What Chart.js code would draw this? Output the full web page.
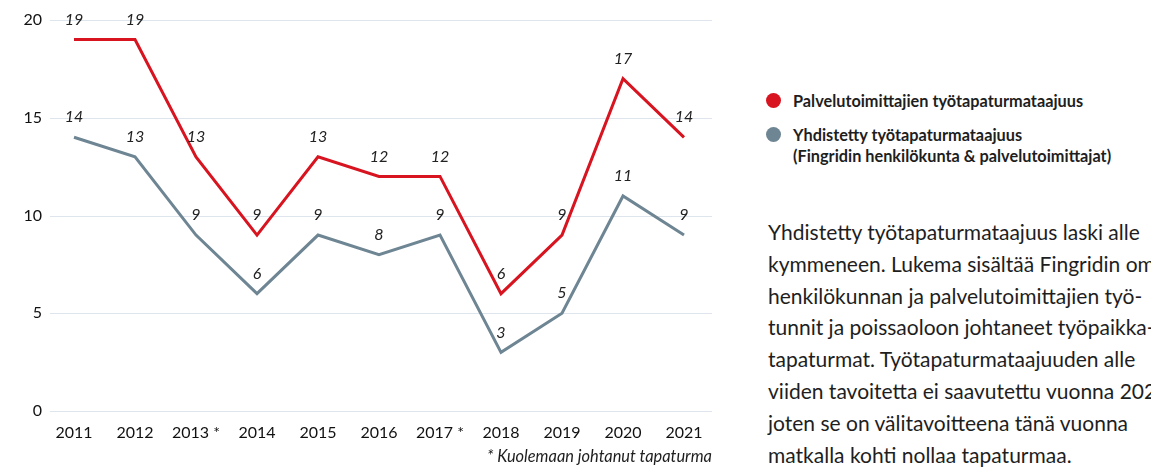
<!DOCTYPE html>
<html>
<head>
<meta charset="utf-8">
<script src="https://cdn.jsdelivr.net/npm/chart.js@4"></script>
<style>
  html, body { margin: 0; padding: 0; background: #fff; }
  body { width: 1151px; height: 469px; overflow: hidden; position: relative; font-family: Lato, "Open Sans", sans-serif; color: #1a1a1a; }
  #wrap { position: absolute; left: 0; top: 0; width: 740px; height: 469px; }
  .leg { position: absolute; left: 767px; font-weight: bold; font-size: 16.3px; line-height: 21px; white-space: nowrap; color: #1e1e1e; }
  .dot { position: absolute; left: -1px; width: 15px; height: 15px; border-radius: 50%; }
  .leg span.t { position: absolute; left: 26px; top: 0; }
  #para { position: absolute; left: 768px; top: 216px; font-size: 21px; line-height: 31.8px; white-space: nowrap; color: #1e1e1e; }
  #foot { position: absolute; right: calc(1151px - 712px); top: 446px; font-size: 16.4px; font-style: italic; white-space: nowrap; color: #1e1e1e; }
</style>
</head>
<body>
<div id="wrap"><canvas id="c" width="740" height="469"></canvas></div>
<div class="leg" style="top:90px;"><div class="dot" style="background:#d7141f;top:3px;"></div><span class="t">Palvelutoimittajien työtapaturmataajuus</span></div>
<div class="leg" style="top:124px;"><div class="dot" style="background:#6e8593;top:3px;"></div><span class="t">Yhdistetty työtapaturmataajuus<br>(Fingridin henkilökunta &amp; palvelutoimittajat)</span></div>
<div id="para">
Yhdistetty työtapaturmataajuus laski alle<br>
kymmeneen. Lukema sisältää Fingridin oman<br>
henkilökunnan ja palvelutoimittajien työ-<br>
tunnit ja poissaoloon johtaneet työpaikka-<br>
tapaturmat. Työtapaturmataajuuden alle<br>
viiden tavoitetta ei saavutettu vuonna 2021,<br>
joten se on välitavoitteena tänä vuonna<br>
matkalla kohti nollaa tapaturmaa.
</div>
<div id="foot">* Kuolemaan johtanut tapaturma</div>
<script>
const years = ['2011', '2012', '2013 *', '2014', '2015', '2016', '2017 *', '2018', '2019', '2020', '2021'];
const contractorRate = [19, 19, 13, 9, 13, 12, 12, 6, 9, 17, 14];
const combinedRate = [14, 13, 9, 6, 9, 8, 9, 3, 5, 11, 9];
const yTicks = [0, 5, 10, 15, 20];
const seriesNames = ['Palvelutoimittajien työtapaturmataajuus', 'Yhdistetty työtapaturmataajuus (Fingridin henkilökunta & palvelutoimittajat)'];

const RED = '#d7141f';
const GREY = '#6e8593';
const FONT = 'Lato, "Open Sans", sans-serif';

const gridPlugin = {
  id: 'extGrid',
  beforeDatasetsDraw(chart) {
    const y = chart.scales.y;
    const ctx = chart.ctx;
    ctx.save();
    ctx.strokeStyle = '#dfe5ec';
    ctx.lineWidth = 1;
    yTicks.forEach(v => {
      const py = Math.round(y.getPixelForValue(v)) + 0.5;
      ctx.beginPath();
      ctx.moveTo(50, py);
      ctx.lineTo(712, py);
      ctx.stroke();
    });
    ctx.restore();
  }
};

const labelPlugin = {
  id: 'valLabels',
  afterDatasetsDraw(chart) {
    const ctx = chart.ctx;
    ctx.save();
    ctx.font = 'italic 16px ' + FONT;
    ctx.fillStyle = '#222';
    ctx.textAlign = 'center';
    ctx.textBaseline = 'middle';
    chart.data.datasets.forEach((ds, i) => {
      const meta = chart.getDatasetMeta(i);
      meta.data.forEach((el, j) => {
        ctx.fillText(String(ds.data[j]), el.x, el.y - 20);
      });
    });
    ctx.restore();
  }
};

new Chart(document.getElementById('c'), {
  type: 'line',
  data: {
    labels: years,
    datasets: [
      { label: seriesNames[0], data: contractorRate, borderColor: RED, backgroundColor: RED, borderWidth: 3, pointRadius: 0, tension: 0 },
      { label: seriesNames[1], data: combinedRate, borderColor: GREY, backgroundColor: GREY, borderWidth: 3, pointRadius: 0, tension: 0 }
    ]
  },
  options: {
    responsive: false,
    devicePixelRatio: 1,
    animation: false,
    layout: { padding: { top: 20, right: 56, left: 0, bottom: 0 } },
    plugins: { legend: { display: false }, tooltip: { enabled: false } },
    scales: {
      x: {
        offset: false,
        grid: { display: false, drawTicks: false },
        border: { display: false },
        ticks: { color: '#111', font: { family: FONT, size: 16 }, padding: 12, maxRotation: 0, autoSkip: false },
        afterFit(s) { s.height = 58; s.paddingLeft = 0; s.paddingRight = 0; }
      },
      y: {
        min: 0, max: 20,
        grid: { display: false, drawTicks: false },
        border: { display: false },
        ticks: { stepSize: 5, color: '#111', font: { family: FONT, size: 16 }, padding: 32 },
        afterFit(s) { s.width = 74; s.paddingTop = 0; s.paddingBottom = 0; }
      }
    }
  },
  plugins: [gridPlugin, labelPlugin]
});
</script>
</body>
</html>
